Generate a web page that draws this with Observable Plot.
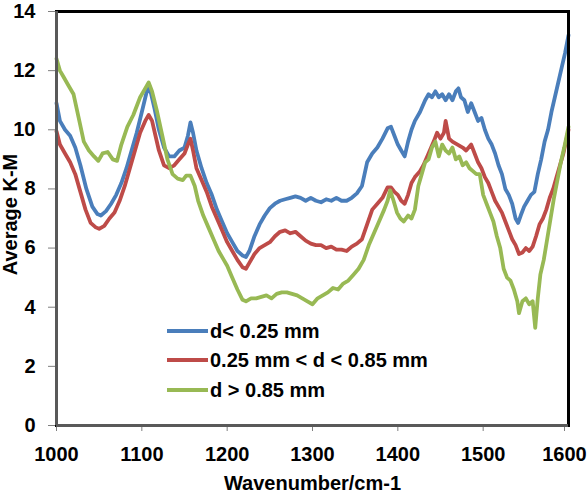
<!DOCTYPE html>
<html>
<head>
<meta charset="utf-8">
<script src="https://cdn.jsdelivr.net/npm/d3@7"></script>
<script src="https://cdn.jsdelivr.net/npm/@observablehq/plot@0.6"></script>
<style>
  html, body { margin: 0; padding: 0; background: #fff; }
  #wrap { position: relative; width: 588px; height: 492px; font-family: "Liberation Sans", Arial, sans-serif; }
  #wrap svg text { font-weight: bold; fill: #000; }
  .leg { position: absolute; left: 167px; font-size: 20px; font-weight: bold; color: #000; }
  .leg .row { position: absolute; left: 0; white-space: nowrap; height: 24px; line-height: 24px; }
  .leg .sw { position: absolute; left: 0; top: 10px; width: 41px; height: 4px; }
  .leg .tx { position: absolute; left: 43px; top: 0; }
</style>
</head>
<body>
<div id="wrap"></div>
<script>
// Series names and colours
const seriesNames = ["d< 0.25 mm", "0.25 mm < d < 0.85 mm", "d > 0.85 mm"];
const seriesColors = ["#4A7EBB", "#BE4B48", "#98B954"];

// Tick values
const xTicks = [1000, 1100, 1200, 1300, 1400, 1500];
const xTickLast = [1600];
const yTicks = [0, 2, 4, 6, 8, 10, 12, 14];

// d < 0.25 mm
const blueX = [1000,1004,1010,1016,1022,1028,1035,1042,1048,1052,1058,1064,1070,1076,1082,1088,1094,1100,1105,1108,1111,1115,1120,1126,1132,1138,1144,1150,1154,1157,1160,1164,1170,1176,1182,1188,1194,1200,1206,1212,1218,1222,1226,1232,1238,1244,1250,1256,1262,1268,1274,1280,1286,1292,1298,1304,1310,1316,1322,1328,1334,1340,1346,1352,1358,1364,1370,1376,1382,1388,1392,1396,1400,1404,1408,1412,1416,1420,1426,1432,1436,1440,1444,1448,1452,1456,1460,1464,1468,1471,1474,1478,1482,1486,1490,1494,1498,1502,1506,1510,1514,1518,1522,1526,1530,1534,1538,1541,1544,1548,1552,1556,1560,1564,1568,1572,1576,1580,1584,1588,1592,1596,1600];
const blueY = [10.9,10.3,10.0,9.8,9.4,8.8,8.0,7.4,7.15,7.1,7.25,7.5,7.8,8.2,8.7,9.3,9.9,10.6,11.2,11.5,11.2,10.7,10.0,9.4,9.1,9.1,9.3,9.4,9.8,10.25,9.9,9.3,8.7,8.2,7.8,7.3,6.9,6.5,6.2,5.9,5.75,5.7,5.9,6.4,6.8,7.1,7.35,7.5,7.6,7.65,7.7,7.75,7.7,7.6,7.7,7.6,7.55,7.65,7.6,7.7,7.6,7.6,7.7,7.85,8.1,8.9,9.2,9.4,9.7,10.05,10.1,9.8,9.5,9.3,9.1,9.6,10.0,10.3,10.6,11.0,11.2,11.1,11.3,11.1,11.2,11.0,11.2,11.0,11.3,11.4,11.1,11.0,10.6,10.9,10.6,10.3,10.4,10.0,9.7,9.5,9.2,8.8,8.5,8.0,7.8,7.5,7.0,6.85,7.1,7.4,7.6,7.8,7.9,8.5,9.0,9.6,10.0,10.6,11.1,11.6,12.1,12.6,13.2];

// 0.25 mm < d < 0.85 mm
const redX = [1000,1004,1010,1016,1022,1028,1034,1040,1046,1050,1056,1062,1068,1074,1080,1086,1092,1098,1104,1108,1112,1116,1120,1126,1132,1138,1144,1150,1154,1157,1160,1164,1170,1176,1182,1188,1194,1200,1206,1212,1218,1222,1226,1232,1238,1244,1250,1256,1262,1268,1274,1280,1286,1292,1298,1304,1310,1316,1322,1328,1334,1340,1346,1352,1358,1364,1370,1376,1382,1388,1392,1396,1400,1404,1408,1412,1416,1420,1426,1430,1436,1442,1446,1450,1454,1456,1460,1464,1470,1476,1480,1486,1490,1494,1498,1502,1506,1510,1514,1518,1522,1526,1530,1534,1538,1542,1546,1550,1554,1558,1562,1566,1570,1574,1578,1582,1586,1590,1594,1600];
const redY = [9.95,9.5,9.2,8.9,8.5,7.9,7.3,6.85,6.7,6.65,6.75,7.0,7.2,7.6,8.1,8.7,9.3,9.9,10.3,10.5,10.3,9.8,9.3,8.8,8.7,8.8,9.0,9.2,9.5,9.7,9.3,8.7,8.3,7.9,7.4,7.0,6.6,6.2,5.9,5.6,5.35,5.3,5.5,5.8,6.0,6.1,6.2,6.4,6.55,6.6,6.5,6.55,6.4,6.25,6.15,6.1,6.1,6.0,6.05,5.95,5.95,5.9,6.05,6.15,6.3,6.8,7.3,7.5,7.7,8.05,8.05,7.9,7.8,7.6,7.5,7.8,8.2,8.4,8.6,8.8,9.2,9.6,9.9,9.7,9.9,10.3,9.7,9.6,9.5,9.4,9.3,9.5,9.2,8.9,8.7,8.4,8.2,7.9,7.6,7.4,7.2,6.9,6.6,6.3,6.1,5.8,5.85,6.0,5.9,6.05,6.4,6.8,7.0,7.3,7.7,8.0,8.4,8.8,9.2,10.0];

// d > 0.85 mm
const greenX = [1000,1004,1008,1014,1020,1026,1032,1038,1044,1049,1054,1060,1066,1071,1076,1083,1090,1098,1104,1108,1112,1118,1124,1130,1136,1142,1148,1152,1157,1162,1166,1172,1178,1184,1190,1196,1200,1206,1212,1218,1222,1228,1234,1240,1246,1252,1258,1264,1270,1276,1282,1288,1294,1300,1306,1312,1318,1324,1330,1336,1342,1348,1354,1360,1366,1372,1378,1384,1388,1391,1395,1399,1403,1407,1412,1416,1420,1424,1428,1432,1436,1440,1444,1448,1452,1456,1460,1464,1468,1472,1476,1480,1484,1488,1492,1496,1500,1504,1508,1512,1516,1520,1524,1528,1532,1536,1540,1542,1546,1550,1554,1558,1561,1564,1567,1571,1575,1579,1583,1587,1591,1595,1600];
const greenY = [12.4,12.0,11.8,11.5,11.2,10.4,9.6,9.3,9.1,8.95,9.2,9.25,9.0,8.95,9.5,10.1,10.5,11.1,11.4,11.6,11.3,10.6,9.8,9.0,8.5,8.35,8.3,8.45,8.45,8.1,7.6,7.1,6.7,6.3,5.9,5.6,5.4,5.0,4.6,4.25,4.2,4.3,4.3,4.35,4.4,4.3,4.45,4.5,4.5,4.45,4.4,4.3,4.2,4.1,4.3,4.4,4.5,4.65,4.6,4.8,4.9,5.1,5.3,5.6,6.1,6.5,6.9,7.3,7.6,7.95,7.6,7.2,7.0,6.9,7.1,7.0,7.3,8.1,8.5,8.9,9.0,9.4,9.6,9.1,9.5,9.3,9.2,9.4,9.0,9.1,8.8,8.9,8.7,8.6,8.5,8.5,7.8,7.5,7.2,6.9,6.4,6.0,5.3,5.0,4.9,4.6,4.2,3.8,4.2,4.3,4.1,4.2,3.3,4.3,5.1,5.6,6.3,7.0,7.7,8.3,8.9,9.4,10.1];

const toRows = (xs, ys, name) => xs.map((x, i) => ({x, y: ys[i], series: name}));
const blue = toRows(blueX, blueY, seriesNames[0]);
const red = toRows(redX, redY, seriesNames[1]);
const green = toRows(greenX, greenY, seriesNames[2]);

const font = "'Liberation Sans', Arial, sans-serif";

const chart = Plot.plot({
  width: 588,
  height: 492,
  marginLeft: 56,
  marginRight: 20,
  marginTop: 11,
  marginBottom: 67,
  style: {fontFamily: font, background: "#fff", overflow: "visible"},
  x: {type: "linear", domain: [1000, 1600]},
  y: {type: "linear", domain: [0, 14]},
  marks: [
    Plot.axisX({ticks: xTicks, tickFormat: d => String(d), tickSize: 6, tickPadding: 15, fontSize: 20, fontWeight: "bold", stroke: "#7f7f7f", label: null}),
    Plot.axisX({ticks: xTickLast, tickFormat: d => String(d), tickSize: 6, tickPadding: 15, fontSize: 20, fontWeight: "bold", stroke: "#7f7f7f", label: null, dx: -4}),
    Plot.axisY({ticks: yTicks, tickFormat: d => String(d), tickSize: 8, tickPadding: 13, fontSize: 20, fontWeight: "bold", stroke: "#7f7f7f", label: null}),
    Plot.line(blue, {x: "x", y: "y", stroke: seriesColors[0], strokeWidth: 3.8, strokeLinejoin: "round"}),
    Plot.line(red, {x: "x", y: "y", stroke: seriesColors[1], strokeWidth: 3.8, strokeLinejoin: "round"}),
    Plot.line(green, {x: "x", y: "y", stroke: seriesColors[2], strokeWidth: 3.8, strokeLinejoin: "round"}),
    Plot.frame({stroke: "#000", strokeWidth: 3}),
    Plot.ruleX([1000], {stroke: "#595959", strokeWidth: 3}),
    Plot.ruleY([0], {stroke: "#595959", strokeWidth: 3}),
    Plot.text(["Wavenumber/cm-1"], {frameAnchor: "bottom", dy: 64, textAnchor: "middle", fontSize: 20, fontWeight: "bold", fill: "#000"}),
    Plot.text(["Average K-M"], {frameAnchor: "left", dx: -46, dy: -4, rotate: -90, textAnchor: "middle", fontSize: 20, fontWeight: "bold", fill: "#000"})
  ]
});

const wrap = document.getElementById("wrap");
wrap.appendChild(chart);

// Legend overlay
const leg = document.createElement("div");
leg.className = "leg";
leg.style.top = "0px";
const rowCenters = [331, 360, 390];
seriesNames.forEach((name, i) => {
  const row = document.createElement("div");
  row.className = "row";
  row.style.top = (rowCenters[i] - 12) + "px";
  const sw = document.createElement("span");
  sw.className = "sw";
  sw.style.background = seriesColors[i];
  const tx = document.createElement("span");
  tx.className = "tx";
  tx.textContent = name;
  row.appendChild(sw);
  row.appendChild(tx);
  leg.appendChild(row);
});
wrap.appendChild(leg);
</script>
</body>
</html>
